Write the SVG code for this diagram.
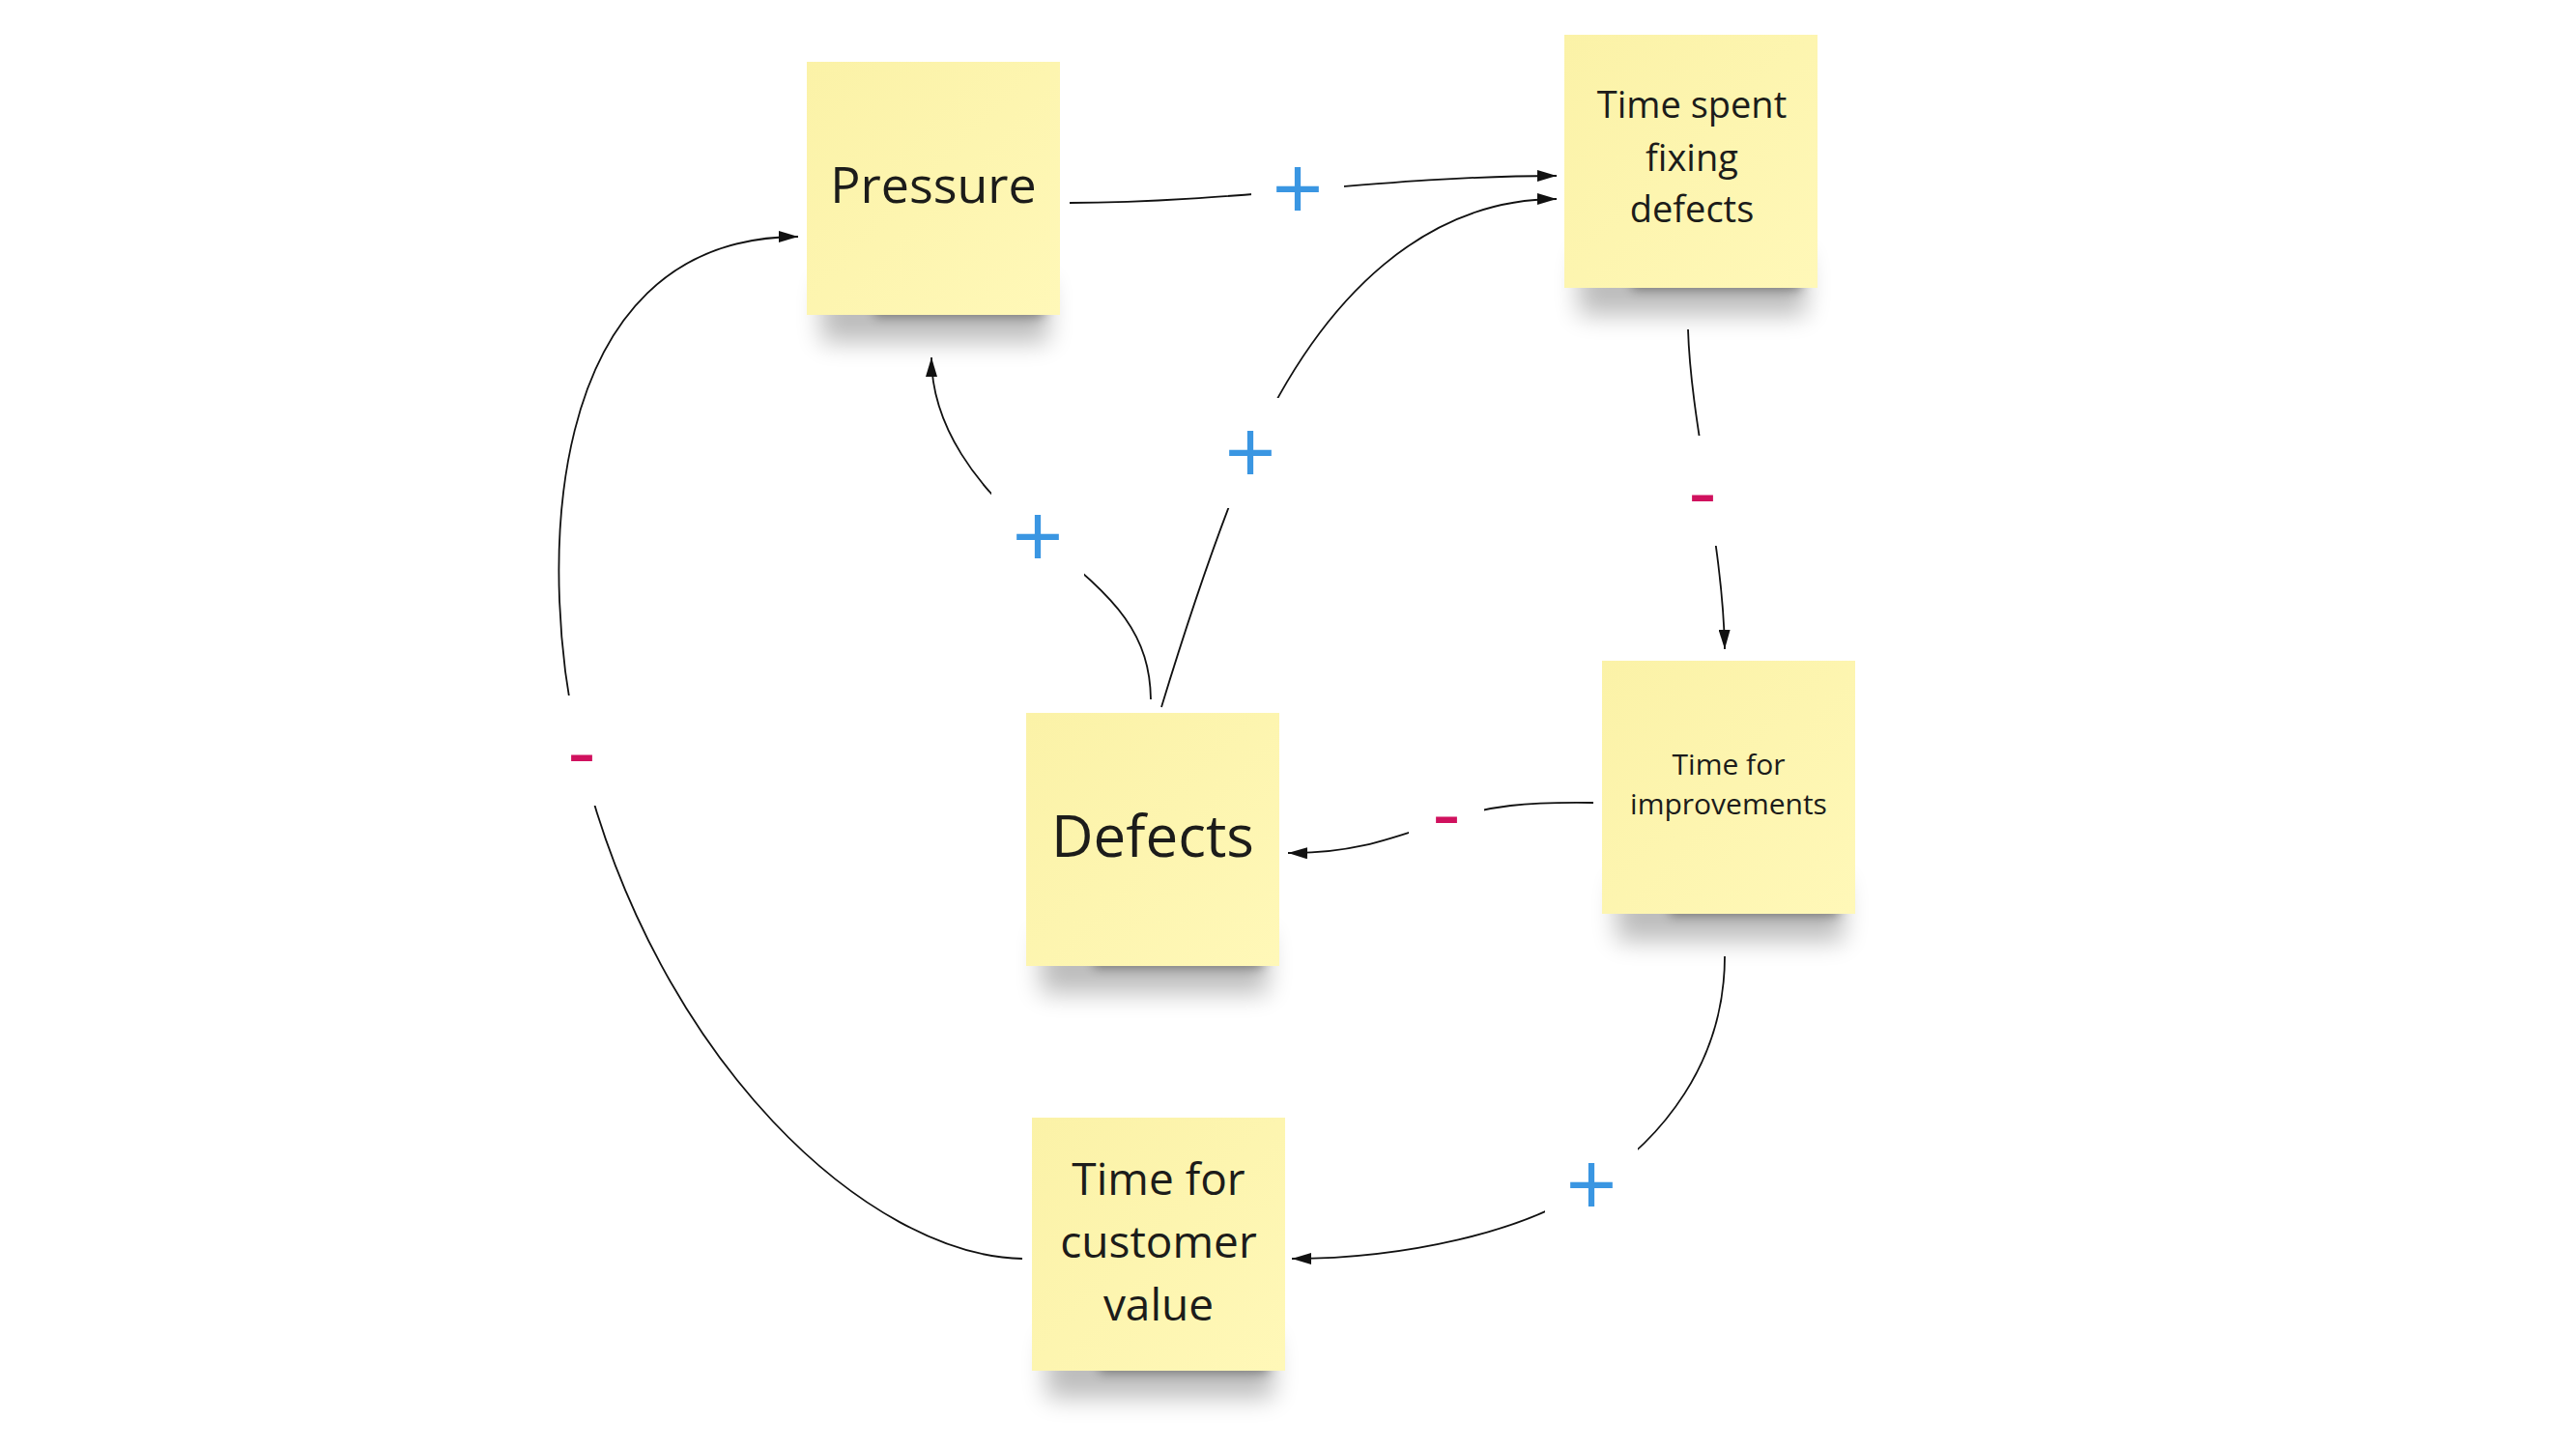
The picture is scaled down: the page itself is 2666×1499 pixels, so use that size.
<svg xmlns="http://www.w3.org/2000/svg" width="2666" height="1499" viewBox="0 0 2666 1499">
<defs>
<style>
.note{fill:url(#paper);}
.ntext{font-family:"Open Sans","Noto Sans","Liberation Sans",sans-serif;fill:#1c1c1a;text-anchor:middle;}
.conn{fill:none;stroke:#111;stroke-width:1.8;}
.lblbg{fill:#fff;}
.plus{font-family:"Open Sans","Noto Sans","Liberation Sans",sans-serif;font-size:93px;fill:#3a96e2;text-anchor:middle;}
.minus{font-family:"Open Sans","Noto Sans","Liberation Sans",sans-serif;font-size:90px;fill:#d0115e;text-anchor:middle;}
.sh1{fill:#000;opacity:0.26;}
.sh2{fill:#000;opacity:0.38;}
</style>
<linearGradient id="paper" x1="0" y1="0" x2="1" y2="1">
<stop offset="0" stop-color="#fbf2a7"/>
<stop offset="1" stop-color="#fff8b8"/>
</linearGradient>
<filter id="soft" x="-30%" y="-100%" width="160%" height="300%"><feGaussianBlur stdDeviation="13"/></filter>
<filter id="hard" x="-30%" y="-100%" width="160%" height="300%"><feGaussianBlur stdDeviation="6"/></filter>
<marker id="arrow" markerUnits="userSpaceOnUse" markerWidth="20" markerHeight="12" refX="20" refY="6" orient="auto">
<path d="M0,0 L20,6 L0,12 z" fill="#111"/>
</marker>
</defs>
<rect width="2666" height="1499" fill="#fff"/>

<g id="connectors">
<path class="conn" d="M1107,210 C1280,210 1430,182 1611,182" marker-end="url(#arrow)"/>
<path class="conn" d="M1747,341 C1750,440 1783,560 1785,672" marker-end="url(#arrow)"/>
<path class="conn" d="M1649,831 C1580,830 1540,834 1497,849 C1440,868 1400,884 1333,883" marker-end="url(#arrow)"/>
<path class="conn" d="M1191,724 C1190,660 1160,620 1074,556 C1010,505 964,440 964,370" marker-end="url(#arrow)"/>
<path class="conn" d="M1202,732 C1230,640 1260,550 1294,469 C1370,300 1480,206 1611,206" marker-end="url(#arrow)"/>
<path class="conn" d="M1785,990 C1785,1100 1720,1180 1647,1227 C1580,1276 1450,1303 1337,1303" marker-end="url(#arrow)"/>
<path class="conn" d="M1058,1303 C900,1300 680,1100 602,785 C555,600 555,245 826,245" marker-end="url(#arrow)"/>
</g>

<g id="labels">
<rect class="lblbg" x="1295" y="139" width="96" height="114"/>
<text class="plus" x="1343" y="229">+</text>
<rect class="lblbg" x="1246" y="412" width="96" height="114"/>
<text class="plus" x="1294" y="502">+</text>
<rect class="lblbg" x="1026" y="499" width="96" height="114"/>
<text class="plus" x="1074" y="589">+</text>
<rect class="lblbg" x="1599" y="1170" width="96" height="114"/>
<text class="plus" x="1647" y="1260">+</text>
<rect class="lblbg" x="1723" y="451" width="78" height="114"/>
<text class="minus" x="1762" y="540">-</text>
<rect class="lblbg" x="1458" y="784" width="78" height="114"/>
<text class="minus" x="1497" y="873">-</text>
<rect class="lblbg" x="563" y="720" width="78" height="114"/>
<text class="minus" x="602" y="809">-</text>
</g>

<g id="node-pressure" transform="translate(835,64)">
<rect class="sh1" x="15" y="228" width="235" height="62" filter="url(#soft)"/>
<rect class="sh2" x="70" y="248" width="175" height="16" filter="url(#hard)"/>
<rect class="note" width="262" height="262"/>
<text class="ntext" x="131" y="146" font-size="52">Pressure</text>
</g>

<g id="node-time-spent" transform="translate(1619,36)">
<rect class="sh1" x="15" y="228" width="235" height="62" filter="url(#soft)"/>
<rect class="sh2" x="70" y="248" width="175" height="16" filter="url(#hard)"/>
<rect class="note" width="262" height="262"/>
<text class="ntext" font-size="38"><tspan x="132" y="86">Time spent</tspan><tspan x="132" y="141">fixing</tspan><tspan x="132" y="194">defects</tspan></text>
</g>

<g id="node-defects" transform="translate(1062,738)">
<rect class="sh1" x="15" y="228" width="235" height="62" filter="url(#soft)"/>
<rect class="sh2" x="70" y="248" width="175" height="16" filter="url(#hard)"/>
<rect class="note" width="262" height="262"/>
<text class="ntext" x="131" y="149" font-size="60">Defects</text>
</g>

<g id="node-time-improvements" transform="translate(1658,684)">
<rect class="sh1" x="15" y="228" width="235" height="62" filter="url(#soft)"/>
<rect class="sh2" x="70" y="248" width="175" height="16" filter="url(#hard)"/>
<rect class="note" width="262" height="262"/>
<text class="ntext" font-size="30"><tspan x="131" y="118">Time for</tspan><tspan x="131" y="159">improvements</tspan></text>
</g>

<g id="node-time-customer" transform="translate(1068,1157)">
<rect class="sh1" x="15" y="228" width="235" height="62" filter="url(#soft)"/>
<rect class="sh2" x="70" y="248" width="175" height="16" filter="url(#hard)"/>
<rect class="note" width="262" height="262"/>
<text class="ntext" font-size="46"><tspan x="131" y="80">Time for</tspan><tspan x="131" y="145">customer</tspan><tspan x="131" y="210">value</tspan></text>
</g>
</svg>
